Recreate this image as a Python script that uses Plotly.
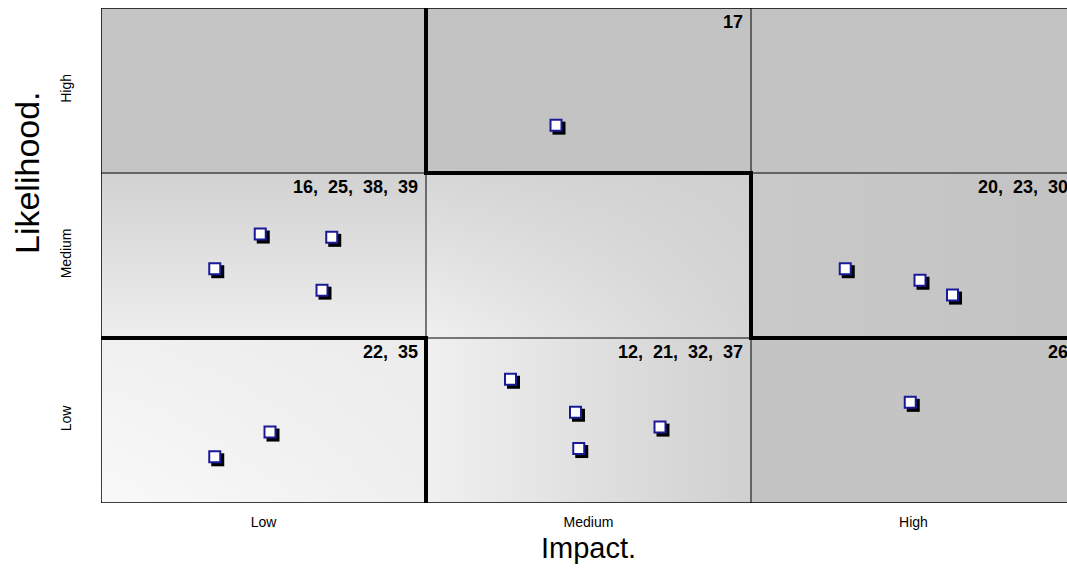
import plotly.graph_objects as go

# Risk register: id, impact position and likelihood position (in band units, 0-3)
impact_levels = ["Low", "Medium", "High"]
likelihood_levels = ["Low", "Medium", "High"]
risk_ids = [22, 35, 16, 25, 38, 39, 17, 12, 21, 32, 37, 20, 23, 30, 26]
impact = [0.35, 0.52, 0.35, 0.49, 0.71, 0.68, 1.40, 1.26, 1.46, 1.72, 1.47, 2.29, 2.52, 2.62, 2.49]
likelihood = [0.28, 0.43, 1.42, 1.63, 1.61, 1.29, 2.29, 0.75, 0.55, 0.46, 0.33, 1.42, 1.35, 1.26, 0.61]

FONT = "Liberation Sans, Arial, sans-serif"
W, H = 1067, 569
M_L, M_T, M_B = 101, 8, 66
BAND_PX = 325                       # pixel width of one impact band
X_MAX = (W - M_L) / BAND_PX         # the High band runs past the right edge
PLOT_H = H - M_T - M_B
BAND_PY = PLOT_H / 3                # pixel height of one likelihood band

fig = go.Figure()

# Shading of the nine cells: (impact band, likelihood band) -> fill layers
cell_fills = {
    (0, 0): [("horizontal", "#F9F9F9", "#EFEFEF"), ("vertical", "rgba(232,232,232,0)", "rgba(232,232,232,0.5)")],
    (1, 0): [("horizontal", "#F0F0F0", "#D0D0D0")],
    (2, 0): [("flat", "#C4C4C4", None)],
    (0, 1): [("vertical", "#EEEEEE", "#D2D2D2")],
    (1, 1): [("vertical", "#F0F0F0", "#D6D6D6"), ("horizontal", "rgba(206,206,206,0)", "rgba(206,206,206,0.8)")],
    (2, 1): [("horizontal", "#C9C9C9", "#C3C3C3")],
    (0, 2): [("flat", "#C5C5C5", None)],
    (1, 2): [("flat", "#C3C3C3", None)],
    (2, 2): [("flat", "#C3C3C3", None)],
}
for (c, r), layers in cell_fills.items():
    xs = [c, c + 1, c + 1, c, c]
    ys = [r, r, r + 1, r + 1, r]
    for kind, c0, c1 in layers:
        style = dict(fillcolor=c0)
        if kind != "flat":
            lo, hi = (c, c + 1) if kind == "horizontal" else (r, r + 1)
            style = dict(fillgradient=dict(type=kind, colorscale=[[0, c0], [1, c1]],
                                           start=lo, stop=hi))
        fig.add_trace(go.Scatter(x=xs, y=ys, mode="none", fill="toself",
                                 hoverinfo="skip", showlegend=False, **style))

# Risk markers with a drop shadow offset a few pixels down-right
dx, dy = 3 / BAND_PX, 3 / BAND_PY
fig.add_trace(go.Scatter(
    x=[v + dx for v in impact], y=[v - dy for v in likelihood], mode="markers",
    marker=dict(symbol="square", size=13, color="black", line=dict(width=0)),
    hoverinfo="skip", showlegend=False))
fig.add_trace(go.Scatter(
    x=impact, y=likelihood, mode="markers", text=[str(i) for i in risk_ids],
    marker=dict(symbol="square", size=11, color="white",
                line=dict(width=2, color="#1A1A96")),
    hovertemplate="Risk %{text}<extra></extra>", showlegend=False))

# Thin cell grid and the outer frame
shapes = []
thin = dict(color="black", width=1)
for k in (1, 2):
    shapes.append(dict(type="line", xref="x", yref="y", x0=k, x1=k, y0=0, y1=3, line=thin))
    shapes.append(dict(type="line", xref="x", yref="y", x0=0, x1=3, y0=k, y1=k, line=thin))
for x0, y0, x1, y1 in [(0, 0, 0, 3), (0, 3, 3, 3), (0, 0, 3, 0)]:
    shapes.append(dict(type="line", xref="x", yref="y", x0=x0, x1=x1, y0=y0, y1=y1,
                       line=dict(color="black", width=1.5)))

# Heavy risk-tolerance boundaries
boundaries = [
    [(0, 1), (1, 1), (1, 0)],
    [(1, 3), (1, 2), (2, 2), (2, 1), (3, 1)],
]
for pts in boundaries:
    path = "M " + " L ".join(f"{x},{y}" for x, y in pts)
    shapes.append(dict(type="path", xref="x", yref="y", path=path,
                       line=dict(color="black", width=4)))

# Risk ids listed in the top-right corner of each occupied cell
cells = {}
for rid, x, y in zip(risk_ids, impact, likelihood):
    cells.setdefault((int(x), int(y)), []).append(rid)
annotations = []
for (c, r), ids in cells.items():
    annotations.append(dict(
        text=",  ".join(str(i) for i in sorted(ids)),
        xref="paper", yref="y", x=(c + 1) / X_MAX, y=r + 1,
        xanchor="right", yanchor="top", xshift=-6, yshift=-2, showarrow=False,
        font=dict(family=FONT, size=18, color="black", weight="bold")))

# Axis titles
annotations.append(dict(text="Impact.", xref="x", yref="paper", x=1.5, y=-45 / PLOT_H,
                        yanchor="middle", xanchor="center", showarrow=False,
                        font=dict(family=FONT, size=29, color="black")))
annotations.append(dict(text="Likelihood.", xref="paper", yref="paper", x=-74 / (W - M_L),
                        y=(H - M_B - 173) / PLOT_H, textangle=-90,
                        xanchor="center", yanchor="middle", showarrow=False,
                        font=dict(family=FONT, size=34, color="black")))

fig.update_layout(
    width=W, height=H,
    margin=dict(l=M_L, r=0, t=M_T, b=M_B),
    paper_bgcolor="white", plot_bgcolor="white",
    font=dict(family=FONT, color="black"),
    xaxis=dict(range=[0, X_MAX], tickvals=[0.5, 1.5, 2.5], ticktext=impact_levels,
               showgrid=False, zeroline=False, showline=False,
               ticks="outside", ticklen=6, tickcolor="rgba(0,0,0,0)",
               tickfont=dict(size=14), fixedrange=True),
    yaxis=dict(range=[0, 3], tickvals=[0.5, 1.5, 2.5], ticktext=likelihood_levels,
               tickangle=-90, showgrid=False, zeroline=False, showline=False,
               ticks="outside", ticklen=23, tickcolor="rgba(0,0,0,0)",
               tickfont=dict(size=14), fixedrange=True),
    shapes=shapes, annotations=annotations,
)

fig.write_html("out.html", config={"displayModeBar": False})
